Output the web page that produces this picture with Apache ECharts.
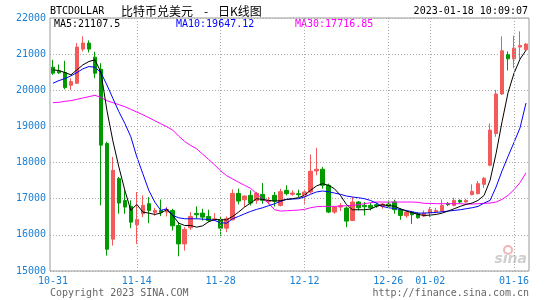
<!DOCTYPE html>
<html><head><meta charset="utf-8">
<script src="https://cdn.jsdelivr.net/npm/echarts@6/dist/echarts.min.js"></script>
<style>html,body{margin:0;padding:0;background:#fff}#c{width:545px;height:300px}</style>
</head><body><div id="c"></div>
<script>
const dates = ['10-31',
'11-01','11-02','11-03','11-04','11-05','11-06','11-07','11-08','11-09','11-10',
'11-11','11-12','11-13','11-14','11-15','11-16','11-17','11-18','11-19','11-20',
'11-21','11-22','11-23','11-24','11-25','11-26','11-27','11-28','11-29','11-30',
'12-01','12-02','12-03','12-04','12-05','12-06','12-07','12-08','12-09','12-10',
'12-11','12-12','12-13','12-14','12-15','12-16','12-17','12-18','12-19','12-20',
'12-21','12-22','12-23','12-24','12-25','12-26','12-27','12-28','12-29','12-30','12-31',
'01-01','01-02','01-03','01-04','01-05','01-06','01-07','01-08','01-09','01-10',
'01-11','01-12','01-13','01-14','01-15','01-16','01-17','01-18'];
const tickDates = ['10-31','11-14','11-28','12-12','12-26','01-02','01-16'];
const gridDates = ['11-14','11-28','12-12','12-26','01-02','01-16'];
const yTicks = [15000,16000,17000,18000,19000,20000,21000,22000];

const opens = [20639,20528,20491,20139,20195,21139,21306,20917,20583,18528,15880,17556,16950,16787,16278,16584,16861,16621,16676,16630,
16676,16259,15750,16195,16593,16602,16510,16417,16417,16185,16417,17148,16972,17093,16950,17121,16917,17093,16815,17232,
17121,17139,17093,17186,17769,17815,17371,16630,16769,16741,16398,16908,16815,16815,16834,16788,16852,16908,16695,16528,
16630,16584,16519,16602,16639,16658,16871,16815,16954,16908,17111,17139,17398,17926,18806,19898,20982,20870,21195,21121];
const closes = [20472,20482,20074,20241,21195,21306,21139,20472,18482,15602,17787,16880,16769,16352,16426,16815,16676,16676,16621,16704,
16250,15750,16148,16509,16556,16491,16398,16445,16185,16445,17148,16935,17074,16880,17148,16954,16954,16935,17195,17139,
17158,17111,17186,17760,17815,17371,16630,16769,16806,16380,16908,16750,16778,16750,16797,16852,16797,16695,16537,16630,
16556,16473,16602,16704,16676,16815,16834,16954,16908,16954,17204,17417,17565,18899,19898,21093,20870,21167,21241,21278];
const lows = [20426,20454,20028,20009,20176,21074,21046,20333,16815,15426,15704,16584,16584,16185,15750,16491,16324,16528,16519,16510,
16120,15408,15565,16139,16445,16398,16352,16380,15963,16074,16398,16843,16769,16815,16861,16861,16843,16787,16787,17093,
17084,17047,16862,17139,17649,17278,16602,16584,16658,16213,16380,16676,16537,16676,16750,16723,16769,16584,16417,16473,
16306,16445,16491,16491,16602,16630,16797,16788,16880,16880,17093,17121,17297,17898,18713,19871,20547,20611,20861,21102];
const highs = [20843,20713,20815,20333,21306,21491,21380,21065,20750,18574,18158,17602,17232,16954,17185,17093,17046,16750,16980,16769,
16722,16352,16213,16630,16787,16722,16695,16602,16491,16510,17259,17278,17093,17232,17185,17435,17046,17185,17278,17370,
17232,17250,17232,18223,18408,17880,17417,16788,16880,16788,17047,16936,16908,16880,16890,16880,16954,16973,16741,16676,
16658,16630,16676,16769,16750,16982,16908,17028,16982,17000,17398,17491,17602,19084,20010,21491,21074,21510,21630,21306];

const ma5 = [20565,20546,20491,20426,20565,20704,20796,20843,20500,19450,18600,17880,17232,16676,16843,16630,16602,16565,16602,16695,
16537,16324,16259,16259,16213,16250,16361,16426,16417,16417,16510,16630,16769,16880,17000,16982,16954,16935,16945,16982,
17000,17028,17093,17232,17352,17417,17371,17278,17093,16843,16695,16695,16695,16713,16787,16834,16806,16797,16723,16658,
16612,16565,16537,16547,16565,16602,16658,16723,16787,16843,16880,16954,17093,17510,18250,19130,19935,20473,20861,21107.5];
const ma10 = [20195,20269,20324,20398,20491,20593,20657,20639,20491,20148,19778,19408,19083,18712,18158,17695,17232,16908,16676,16722,
16537,16472,16445,16445,16445,16435,16426,16398,16333,16324,16445,16510,16583,16648,16704,16750,16806,16861,16926,16982,
16991,17000,17047,17121,17186,17213,17195,17158,17121,17075,17047,17028,17000,16954,16880,16787,16750,16732,16704,16676,
16639,16602,16602,16611,16621,16639,16658,16676,16695,16723,16750,16787,16880,16954,17324,17770,18170,18560,18960,19647.12];
const ma30 = [19658,19667,19695,19713,19750,19787,19824,19861,19806,19713,19658,19602,19546,19472,19398,19324,19241,19158,19074,18991,
18898,18732,18583,18472,18380,18232,18084,17935,17769,17639,17547,17454,17371,17287,17139,17000,16880,16695,16658,16667,
16676,16686,16704,16750,16778,16788,16788,16788,16797,16806,16815,16834,16862,16889,16908,16908,16908,16908,16908,16908,
16908,16899,16871,16871,16862,16862,16862,16862,16862,16852,16852,16862,16871,16880,16908,16982,17093,17250,17445,17716.85];

const UP = '#f45a5a', DOWN = '#009a00';
const MONO = '"DejaVu Sans Mono", "Liberation Mono", monospace';
const CJK = '"Noto Sans CJK SC", sans-serif';
const AXISBLUE = '#1a7fd2';

const chart = echarts.init(document.getElementById('c'), null, {renderer: 'canvas'});
const ohlc = dates.map((d, i) => [opens[i], closes[i], lows[i], highs[i]]);
const last = ma5.length - 1;

function txt(x, y, text, fill, font, align) {
  return {type: 'text', x: x, y: y, silent: true, style: {text: text, fill: fill, font: font,
    textAlign: align, textVerticalAlign: 'middle', align: align, verticalAlign: 'middle'}};
}

chart.setOption({
  animation: false,
  grid: {left: 50, right: 16, top: 18, bottom: 29, show: true, borderColor: '#999', borderWidth: 1, backgroundColor: 'transparent'},
  xAxis: {
    type: 'category', data: dates, boundaryGap: true,
    axisLine: {show: false}, axisTick: {show: false},
    axisLabel: {interval: (i, v) => tickDates.includes(v), color: AXISBLUE, fontFamily: MONO, fontSize: 10, margin: 5},
    splitLine: {show: false}
  },
  yAxis: {
    type: 'value', min: yTicks[0], max: yTicks[yTicks.length - 1], interval: 1000, scale: true,
    axisLine: {show: false}, axisTick: {show: false},
    axisLabel: {color: AXISBLUE, fontFamily: MONO, fontSize: 10, margin: 4, formatter: v => String(v)},
    splitLine: {show: true, lineStyle: {color: '#aaa', type: [1, 2], width: 1}}
  },
  series: [
    {
      type: 'candlestick', data: ohlc, barWidth: 4, silent: true,
      itemStyle: {color: UP, color0: DOWN, borderColor: UP, borderColor0: DOWN, borderColorDoji: UP, borderWidth: 1},
      markLine: {
        silent: true, symbol: 'none', label: {show: false},
        lineStyle: {color: '#aaa', type: [1, 2], width: 1},
        data: gridDates.map(d => ({xAxis: d}))
      }
    },
    {type: 'line', data: ma30, showSymbol: false, silent: true, lineStyle: {color: '#ff00ff', width: 1}, itemStyle: {color: '#ff00ff'}},
    {type: 'line', data: ma10, showSymbol: false, silent: true, lineStyle: {color: '#0000ff', width: 1}, itemStyle: {color: '#0000ff'}},
    {type: 'line', data: ma5, showSymbol: false, silent: true, lineStyle: {color: '#000000', width: 1}, itemStyle: {color: '#000'}}
  ],
  graphic: [
    txt(50, 11, 'BTCDOLLAR', '#000', '10px ' + MONO, 'left'),
    txt(121, 11, '比特币兑美元', '#000', '12px ' + CJK, 'left'),
    txt(204, 11, '-', '#000', '12px ' + CJK, 'left'),
    txt(218, 11, '日K线图', '#000', '12px ' + CJK, 'left'),
    txt(528, 11, '2023-01-18 10:09:07', '#000', '10px ' + MONO, 'right'),
    txt(54, 24, 'MA5:' + ma5[last], '#000', '10px ' + MONO, 'left'),
    txt(176, 24, 'MA10:' + ma10[last], '#0000ff', '10px ' + MONO, 'left'),
    txt(295, 24, 'MA30:' + ma30[last], '#ff00ff', '10px ' + MONO, 'left'),
    txt(50, 293, 'Copyright 2023 SINA.COM', '#666', '10px ' + MONO, 'left'),
    txt(529, 293, 'http://finance.sina.com.cn', '#666', '10px ' + MONO, 'right'),
    {type: 'circle', silent: true, shape: {cx: 508, cy: 250, r: 4}, style: {fill: 'none', stroke: '#f2b4b4', lineWidth: 2}},
    txt(527, 259, 'sina', '#cfcfcf', 'italic bold 14px "DejaVu Sans", sans-serif', 'right')
  ]
});
</script></body></html>
